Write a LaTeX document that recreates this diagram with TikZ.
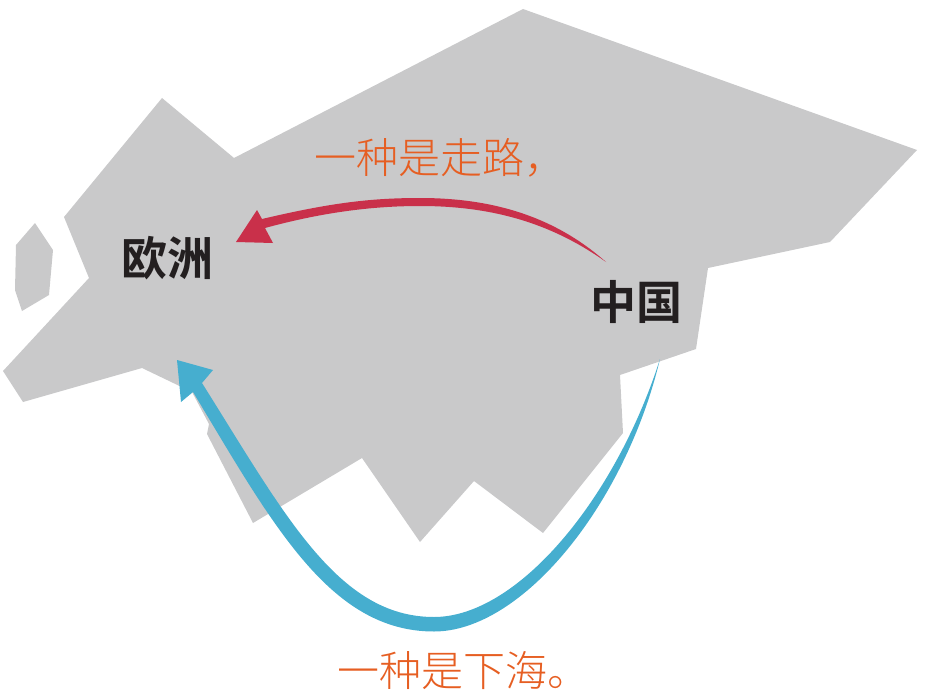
\documentclass[tikz,border=0pt]{standalone}
\usepackage{fontspec}
\newfontfamily\cjk{Noto Sans CJK SC}[BoldFont={* Bold}]
\newfontfamily\cjklight{Noto Sans CJK SC Light}
\definecolor{landgray}{HTML}{C9C9CA}
\definecolor{roadred}{HTML}{C9304A}
\definecolor{seablue}{HTML}{46AECF}
\definecolor{noteorange}{HTML}{E65E22}
\definecolor{placeblack}{HTML}{231F20}
\tikzset{
 land/.style={fill=landgray,draw=none},
 place/.style={inner sep=0pt,text=placeblack,font=\cjk\bfseries\fontsize{46}{46}\selectfont},
 note/.style={inner sep=0pt,anchor=west,text=noteorange,font=\cjklight\fontsize{42}{42}\selectfont},
}
\begin{document}
\begin{tikzpicture}[x=1pt,y=-1pt]
\useasboundingbox (0,0) rectangle (926,698);
\fill[land] (523,9) -- (917,150) -- (830,242) -- (708,268) -- (696,349) -- (620,375) -- (623,433) -- (543,533) -- (474,481) -- (420,542) -- (362,458) -- (253,523) -- (207,434) -- (209,424) -- (192,392) -- (142,368) -- (23,402) -- (3,371) -- (89,278) -- (64,217) -- (162,98) -- (234,158) -- cycle;
\fill[land] (35,223) -- (53,250) -- (49,295) -- (22,311) -- (15,290) -- (16,245) -- cycle;
% red arrow
\fill[roadred] (236,242) -- (257,210) -- (262,219) .. controls (330,203) and (370,198) .. (420,198) .. controls (490,198) and (553,215) .. (606,262) .. controls (550,222) and (490,206) .. (420,206) .. controls (370,206) and (320,213) .. (265,228) -- (273,243) -- cycle;
% blue arrow
\fill[seablue] (177,360) -- (213,370) -- (202,383) .. controls (285,515) and (338,617) .. (434,617) .. controls (517,617) and (615,500) .. (660,359) .. controls (625,505) and (522,631.5) .. (434,631.5) .. controls (330,631.5) and (273,525) .. (193,392) -- (181,402) -- cycle;
\node[place] (europe) at (167,258) {欧洲};
\node[place] (china) at (636,302) {中国};
\node[note] (walk) at (314,158) {一种是走路，};
\node[note] (sea) at (337,671) {一种是下海。};
\end{tikzpicture}
\end{document}
